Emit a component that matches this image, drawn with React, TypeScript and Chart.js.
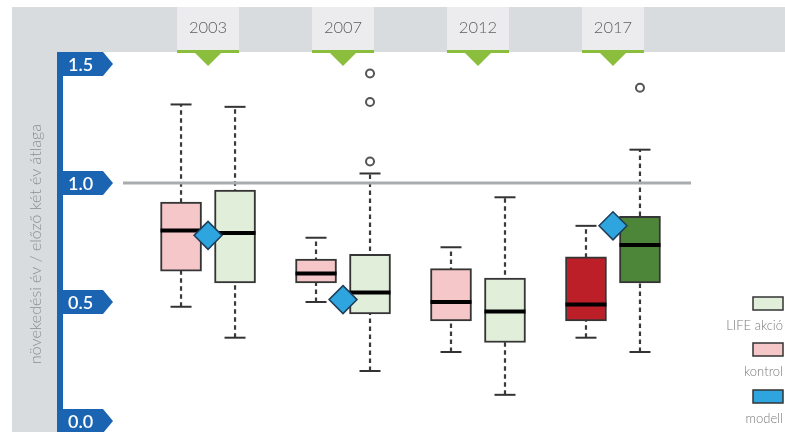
import React, { useEffect, useRef } from 'react';
import { Chart, registerables } from 'chart.js';

Chart.register(...registerables);

// ---- data ----
const years = ['2003', '2007', '2012', '2017'];
const yTickValues = [0, 0.5, 1.0, 1.5];
const yTickLabels = ['0.0', '0.5', '1.0', '1.5'];
const referenceValue = 1.0;

const kontrolMin = [0.48, 0.5, 0.29, 0.35];
const kontrolQ1 = [0.63, 0.58, 0.42, 0.42];
const kontrolMedian = [0.8, 0.62, 0.5, 0.49];
const kontrolQ3 = [0.92, 0.68, 0.64, 0.69];
const kontrolMax = [1.33, 0.77, 0.73, 0.82];

const lifeMin = [0.35, 0.21, 0.11, 0.29];
const lifeQ1 = [0.58, 0.45, 0.33, 0.58];
const lifeMedian = [0.79, 0.54, 0.46, 0.74];
const lifeQ3 = [0.97, 0.7, 0.6, 0.86];
const lifeMax = [1.32, 1.04, 0.94, 1.14];
const lifeOutliers = [[], [1.09, 1.34, 1.46], [], [1.4]];

const modell: (number | null)[] = [0.78, 0.51, null, 0.82];

const legendLabels = ['LIFE akció', 'kontrol', 'modell'];
const yTitle = 'növekedési év / előző két év átlaga';

// ---- styling ----
const FONT = 'Lato, "Open Sans", "DejaVu Sans", sans-serif';
const X_MIN = -0.63;
const X_MAX = 3.578;
const KONTROL_OFFSET = -0.2;
const LIFE_OFFSET = 0.2;
const kontrolFill = ['#f5c7c9', '#f5c7c9', '#f5c7c9', '#bd1f28'];
const lifeFill = ['#e1efda', '#e1efda', '#e1efda', '#4d8539'];
const legendFill = ['#e1efda', '#f5c7c9', '#2ea5de'];
const GRAY_BG = '#d9dcdf';
const HEADER_BG = '#ececee';
const BLUE = '#1a64b2';
const GREEN = '#8cbe3e';

const chromePlugin = {
  id: 'chrome',
  beforeDraw(chart: any) {
    const { ctx, width, height } = chart;
    const xs = chart.scales.x;
    const ys = chart.scales.y;
    ctx.save();
    ctx.fillStyle = '#ffffff';
    ctx.fillRect(0, 0, width, height);
    // gray band + left strip
    ctx.fillStyle = GRAY_BG;
    ctx.fillRect(12, 7, width - 12, 45);
    ctx.fillRect(12, 7, 45, height - 7);
    // header boxes
    years.forEach((yr, i) => {
      const cx = xs.getPixelForValue(i);
      ctx.fillStyle = HEADER_BG;
      ctx.fillRect(cx - 31, 7, 62, 43);
      ctx.fillStyle = GREEN;
      ctx.fillRect(cx - 31, 50, 62, 3);
      ctx.beginPath();
      ctx.moveTo(cx - 14, 52);
      ctx.lineTo(cx + 14, 52);
      ctx.lineTo(cx, 66);
      ctx.closePath();
      ctx.fill();
      ctx.fillStyle = '#5e5e5e';
      ctx.font = `300 16.5px ${FONT}`;
      ctx.textAlign = 'center';
      ctx.textBaseline = 'middle';
      ctx.fillText(yr, cx, 28);
    });
    // blue axis
    ctx.fillStyle = BLUE;
    ctx.fillRect(57, 52, 6, height - 52);
    yTickValues.forEach((v, i) => {
      const y = ys.getPixelForValue(v);
      ctx.fillStyle = BLUE;
      ctx.beginPath();
      ctx.moveTo(57, y - 12);
      ctx.lineTo(103, y - 12);
      ctx.lineTo(113, y);
      ctx.lineTo(103, y + 12);
      ctx.lineTo(57, y + 12);
      ctx.closePath();
      ctx.fill();
      ctx.fillStyle = '#ffffff';
      ctx.font = `600 18px ${FONT}`;
      ctx.textAlign = 'left';
      ctx.textBaseline = 'middle';
      ctx.fillText(yTickLabels[i], 68, y + 1);
    });
    // y title
    ctx.save();
    ctx.translate(36, 244);
    ctx.rotate(-Math.PI / 2);
    ctx.fillStyle = '#8a8d90';
    ctx.font = `300 16px ${FONT}`;
    ctx.textAlign = 'center';
    ctx.textBaseline = 'middle';
    ctx.fillText(yTitle, 0, 0);
    ctx.restore();
    // legend
    const legendTop = [297, 343, 390];
    legendLabels.forEach((lab, i) => {
      const t = legendTop[i];
      ctx.fillStyle = legendFill[i];
      ctx.fillRect(753, t, 30, 13);
      ctx.strokeStyle = '#333333';
      ctx.lineWidth = 1.5;
      ctx.strokeRect(753, t, 30, 13);
      ctx.fillStyle = '#7a7a7a';
      ctx.font = `300 13px ${FONT}`;
      ctx.textAlign = 'right';
      ctx.textBaseline = 'middle';
      ctx.fillText(lab, 783, t + 29);
    });
    ctx.restore();
  },
};

function boxes(offset: number) {
  return years.map((_, i) => i + offset);
}

function App() {
  const ref = useRef<HTMLCanvasElement | null>(null);
  useEffect(() => {
    if (!ref.current) return;
    const kx = boxes(KONTROL_OFFSET);
    const lx = boxes(LIFE_OFFSET);
    const whiskerData: any[] = [];
    const capData: any[] = [];
    const medianData: any[] = [];
    years.forEach((_, i) => {
      whiskerData.push({ x: kx[i], y: kontrolMin[i] }, { x: kx[i], y: kontrolMax[i] }, { x: kx[i], y: null });
      whiskerData.push({ x: lx[i], y: lifeMin[i] }, { x: lx[i], y: lifeMax[i] }, { x: lx[i], y: null });
      capData.push({ x: kx[i], y: kontrolMin[i] }, { x: kx[i], y: kontrolMax[i] });
      capData.push({ x: lx[i], y: lifeMin[i] }, { x: lx[i], y: lifeMax[i] });
      medianData.push({ x: kx[i], y: kontrolMedian[i] }, { x: lx[i], y: lifeMedian[i] });
    });
    const outlierData: any[] = [];
    lifeOutliers.forEach((arr, i) => arr.forEach((v) => outlierData.push({ x: lx[i], y: v })));
    const modellData: any[] = [];
    modell.forEach((v, i) => {
      if (v !== null) modellData.push({ x: i, y: v });
    });

    const chart = new Chart(ref.current, {
      type: 'bar',
      data: {
        datasets: [
          {
            type: 'line',
            label: 'whiskers',
            data: whiskerData,
            borderColor: '#3a3a3a',
            borderWidth: 2.2,
            borderDash: [4.5, 3.5],
            pointRadius: 0,
            spanGaps: false,
            fill: false,
            order: 8,
          } as any,
          {
            type: 'line',
            label: 'ref',
            data: [
              { x: X_MIN, y: referenceValue },
              { x: X_MAX, y: referenceValue },
            ],
            borderColor: '#a9abad',
            borderWidth: 3,
            pointRadius: 0,
            fill: false,
            order: 7,
          } as any,
          {
            type: 'bar',
            label: 'kontrol',
            data: years.map((_, i) => ({ x: kx[i], y: [kontrolQ1[i], kontrolQ3[i]] })),
            backgroundColor: kontrolFill,
            borderColor: '#353535',
            borderWidth: 2,
            borderSkipped: false,
            grouped: false,
            barThickness: 41,
            order: 6,
          } as any,
          {
            type: 'bar',
            label: 'LIFE akció',
            data: years.map((_, i) => ({ x: lx[i], y: [lifeQ1[i], lifeQ3[i]] })),
            backgroundColor: lifeFill,
            borderColor: '#353535',
            borderWidth: 2,
            borderSkipped: false,
            grouped: false,
            barThickness: 41,
            order: 6,
          } as any,
          {
            type: 'scatter',
            label: 'caps',
            data: capData,
            pointStyle: 'line',
            pointRadius: 10.5,
            pointBorderWidth: 2,
            pointBorderColor: '#333333',
            order: 5,
          } as any,
          {
            type: 'scatter',
            label: 'medians',
            data: medianData,
            pointStyle: 'line',
            pointRadius: 20.5,
            pointBorderWidth: 4,
            pointBorderColor: '#000000',
            order: 4,
          } as any,
          {
            type: 'scatter',
            label: 'outliers',
            data: outlierData,
            pointStyle: 'circle',
            pointRadius: 4,
            pointBorderWidth: 2,
            pointBorderColor: '#555555',
            pointBackgroundColor: '#ffffff',
            order: 3,
          } as any,
          {
            type: 'scatter',
            label: 'modell',
            data: modellData,
            pointStyle: 'rectRot',
            pointRadius: 14,
            pointBorderWidth: 1.5,
            pointBorderColor: '#1d3d58',
            pointBackgroundColor: '#2ea5de',
            order: 1,
          } as any,
        ],
      },
      options: {
        responsive: false,
        animation: false,
        devicePixelRatio: 1,
        events: [],
        clip: false,
        layout: { autoPadding: false, padding: { left: 123, right: 94, top: 64, bottom: 11 } },
        plugins: { legend: { display: false }, tooltip: { enabled: false } },
        scales: {
          x: { type: 'linear', min: X_MIN, max: X_MAX, offset: false, display: false },
          y: { type: 'linear', min: 0, max: 1.5, offset: false, display: false },
        },
      } as any,
      plugins: [chromePlugin],
    });
    return () => chart.destroy();
  }, []);
  return (
    <div style={{ position: 'absolute', left: 0, top: 0 }}>
      <canvas ref={ref} width={785} height={432} style={{ display: 'block' }} />
    </div>
  );
}

export default App;
